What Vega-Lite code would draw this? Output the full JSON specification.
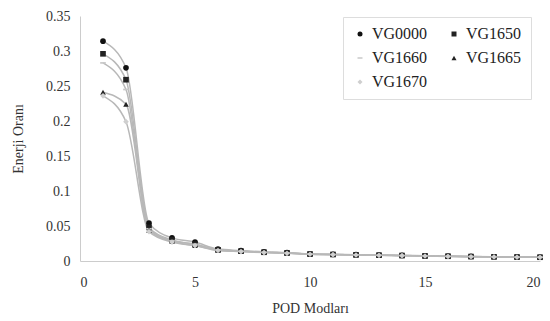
{
  "$schema": "https://vega.github.io/schema/vega-lite/v6.json",
  "width": 460,
  "height": 245,
  "autosize": {"type": "none"},
  "padding": {"left": 80, "top": 16, "right": 10, "bottom": 60},
  "background": "white",
  "config": {
    "font": "Liberation Serif",
    "view": {"stroke": null},
    "axis": {"labelFont": "Liberation Serif", "titleFont": "Liberation Serif", "labelColor": "#333", "titleColor": "#333", "titleFontWeight": "normal", "labelFontSize": 14, "titleFontSize": 14, "domainColor": "#ccc", "tickColor": "#ccc", "grid": false}
  },
  "data": {"values": [
    {"mode":1,"series":"VG0000","v":0.314},{"mode":2,"series":"VG0000","v":0.276},{"mode":3,"series":"VG0000","v":0.054},{"mode":4,"series":"VG0000","v":0.033},{"mode":5,"series":"VG0000","v":0.027},{"mode":6,"series":"VG0000","v":0.017},{"mode":7,"series":"VG0000","v":0.015},{"mode":8,"series":"VG0000","v":0.013},{"mode":9,"series":"VG0000","v":0.012},{"mode":10,"series":"VG0000","v":0.010},{"mode":11,"series":"VG0000","v":0.0095},{"mode":12,"series":"VG0000","v":0.009},{"mode":13,"series":"VG0000","v":0.0085},{"mode":14,"series":"VG0000","v":0.008},{"mode":15,"series":"VG0000","v":0.0075},{"mode":16,"series":"VG0000","v":0.007},{"mode":17,"series":"VG0000","v":0.0065},{"mode":18,"series":"VG0000","v":0.006},{"mode":19,"series":"VG0000","v":0.0058},{"mode":20,"series":"VG0000","v":0.0055},
    {"mode":1,"series":"VG1650","v":0.296},{"mode":2,"series":"VG1650","v":0.259},{"mode":3,"series":"VG1650","v":0.048},{"mode":4,"series":"VG1650","v":0.030},{"mode":5,"series":"VG1650","v":0.024},{"mode":6,"series":"VG1650","v":0.016},{"mode":7,"series":"VG1650","v":0.014},{"mode":8,"series":"VG1650","v":0.0125},{"mode":9,"series":"VG1650","v":0.0115},{"mode":10,"series":"VG1650","v":0.010},{"mode":11,"series":"VG1650","v":0.0093},{"mode":12,"series":"VG1650","v":0.0088},{"mode":13,"series":"VG1650","v":0.0083},{"mode":14,"series":"VG1650","v":0.0078},{"mode":15,"series":"VG1650","v":0.0073},{"mode":16,"series":"VG1650","v":0.0068},{"mode":17,"series":"VG1650","v":0.0063},{"mode":18,"series":"VG1650","v":0.006},{"mode":19,"series":"VG1650","v":0.0057},{"mode":20,"series":"VG1650","v":0.0054},
    {"mode":1,"series":"VG1660","v":0.283},{"mode":2,"series":"VG1660","v":0.245},{"mode":3,"series":"VG1660","v":0.046},{"mode":4,"series":"VG1660","v":0.029},{"mode":5,"series":"VG1660","v":0.024},{"mode":6,"series":"VG1660","v":0.016},{"mode":7,"series":"VG1660","v":0.014},{"mode":8,"series":"VG1660","v":0.0125},{"mode":9,"series":"VG1660","v":0.0115},{"mode":10,"series":"VG1660","v":0.010},{"mode":11,"series":"VG1660","v":0.0093},{"mode":12,"series":"VG1660","v":0.0088},{"mode":13,"series":"VG1660","v":0.0083},{"mode":14,"series":"VG1660","v":0.0078},{"mode":15,"series":"VG1660","v":0.0073},{"mode":16,"series":"VG1660","v":0.0068},{"mode":17,"series":"VG1660","v":0.0063},{"mode":18,"series":"VG1660","v":0.006},{"mode":19,"series":"VG1660","v":0.0057},{"mode":20,"series":"VG1660","v":0.0054},
    {"mode":1,"series":"VG1665","v":0.241},{"mode":2,"series":"VG1665","v":0.224},{"mode":3,"series":"VG1665","v":0.044},{"mode":4,"series":"VG1665","v":0.028},{"mode":5,"series":"VG1665","v":0.022},{"mode":6,"series":"VG1665","v":0.0155},{"mode":7,"series":"VG1665","v":0.0138},{"mode":8,"series":"VG1665","v":0.0123},{"mode":9,"series":"VG1665","v":0.0113},{"mode":10,"series":"VG1665","v":0.0098},{"mode":11,"series":"VG1665","v":0.0092},{"mode":12,"series":"VG1665","v":0.0087},{"mode":13,"series":"VG1665","v":0.0082},{"mode":14,"series":"VG1665","v":0.0077},{"mode":15,"series":"VG1665","v":0.0072},{"mode":16,"series":"VG1665","v":0.0067},{"mode":17,"series":"VG1665","v":0.0062},{"mode":18,"series":"VG1665","v":0.0059},{"mode":19,"series":"VG1665","v":0.0056},{"mode":20,"series":"VG1665","v":0.0053},
    {"mode":1,"series":"VG1670","v":0.236},{"mode":2,"series":"VG1670","v":0.199},{"mode":3,"series":"VG1670","v":0.042},{"mode":4,"series":"VG1670","v":0.027},{"mode":5,"series":"VG1670","v":0.022},{"mode":6,"series":"VG1670","v":0.015},{"mode":7,"series":"VG1670","v":0.0135},{"mode":8,"series":"VG1670","v":0.012},{"mode":9,"series":"VG1670","v":0.011},{"mode":10,"series":"VG1670","v":0.0097},{"mode":11,"series":"VG1670","v":0.0091},{"mode":12,"series":"VG1670","v":0.0086},{"mode":13,"series":"VG1670","v":0.0081},{"mode":14,"series":"VG1670","v":0.0076},{"mode":15,"series":"VG1670","v":0.0071},{"mode":16,"series":"VG1670","v":0.0066},{"mode":17,"series":"VG1670","v":0.0061},{"mode":18,"series":"VG1670","v":0.0058},{"mode":19,"series":"VG1670","v":0.0055},{"mode":20,"series":"VG1670","v":0.0052}
  ]},
  "encoding": {
    "x": {"field": "mode", "type": "quantitative", "title": "POD Modları", "scale": {"domain": [0, 20], "nice": false}, "axis": {"values": [0, 5, 10, 15, 20], "labelPadding": 14, "titlePadding": 12, "ticks": false}},
    "y": {"field": "v", "type": "quantitative", "title": "Enerji Oranı", "scale": {"domain": [0, 0.35], "nice": false}, "axis": {"values": [0, 0.05, 0.1, 0.15, 0.2, 0.25, 0.3, 0.35], "format": "~g", "ticks": false, "labelPadding": 10, "titlePadding": 20}}
  },
  "layer": [
    {
      "mark": {"type": "line", "interpolate": "monotone", "color": "#b8b8b8", "strokeWidth": 1.5},
      "encoding": {"detail": {"field": "series", "type": "nominal"}}
    },
    {
      "mark": {"type": "point", "filled": true, "opacity": 1, "size": 32},
      "encoding": {
        "shape": {"field": "series", "type": "nominal", "title": null,
          "scale": {"domain": ["VG0000","VG1650","VG1660","VG1665","VG1670"], "range": ["circle","square","M-1,-0.3L1,-0.3L1,0.3L-1,0.3Z","triangle-up","diamond"]},
          "legend": {"orient": "none", "legendX": 263, "legendY": 1, "direction": "horizontal", "columns": 2, "strokeColor": "#ddd", "fillColor": "white", "padding": 9, "labelFont": "Liberation Serif", "labelFontSize": 16, "labelColor": "#222", "columnPadding": 18, "rowPadding": 8, "symbolSize": 25}},
        "color": {"field": "series", "type": "nominal", "title": null,
          "scale": {"domain": ["VG0000","VG1650","VG1660","VG1665","VG1670"], "range": ["#111","#222","#c8c8c8","#222","#cfcfcf"]},
          "legend": {"orient": "none", "legendX": 263, "legendY": 1, "direction": "horizontal", "columns": 2, "strokeColor": "#ddd", "fillColor": "white", "padding": 9, "labelFont": "Liberation Serif", "labelFontSize": 16, "labelColor": "#222", "columnPadding": 18, "rowPadding": 8, "symbolSize": 25}}
      }
    }
  ]
}
